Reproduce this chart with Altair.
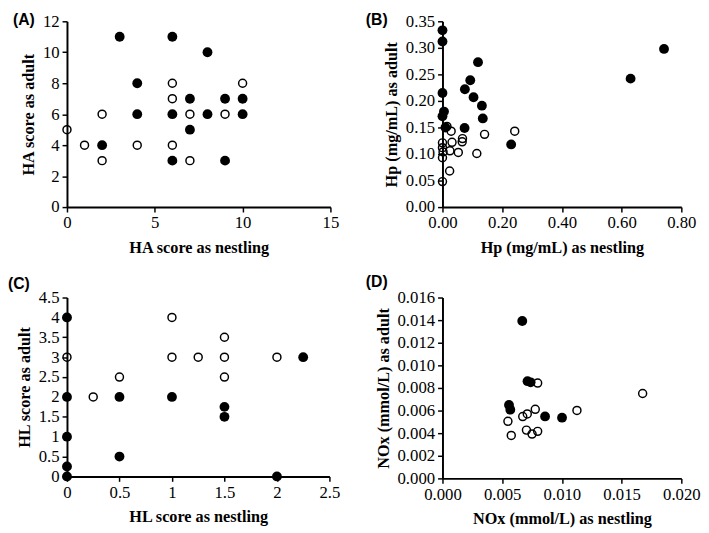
import altair as alt
import pandas as pd

# ---------------- data ----------------
# Panel A: HA score
a_filled_x = [3, 6, 8, 4, 4, 6, 7, 8, 9, 10, 10, 7, 2, 6, 9]
a_filled_y = [11, 11, 10, 8, 6, 6, 7, 6, 7, 7, 6, 5, 4, 3, 3]
a_open_x = [0, 1, 2, 2, 4, 6, 6, 7, 9, 10, 6, 7]
a_open_y = [5, 4, 6, 3, 4, 8, 7, 6, 6, 8, 4, 3]

# Panel B: Hp (mg/mL)
b_filled_x = [0, 0, 0, 0.005, 0, 0.01, 0.075, 0.093, 0.119, 0.104, 0.132, 0.135, 0.074, 0.230, 0.630, 0.742]
b_filled_y = [0.333, 0.312, 0.215, 0.180, 0.171, 0.150, 0.222, 0.239, 0.273, 0.207, 0.191, 0.167, 0.149, 0.118, 0.242, 0.298]
b_open_x = [0.015, 0.029, 0, 0, 0.032, 0.067, 0.066, 0.025, 0.053, 0, 0.115, 0.024, 0, 0.141, 0.242, 0.002]
b_open_y = [0.152, 0.143, 0.121, 0.112, 0.122, 0.129, 0.123, 0.106, 0.103, 0.093, 0.101, 0.068, 0.048, 0.137, 0.143, 0.104]

# Panel C: HL score
c_filled_x = [0, 0, 0, 0, 0, 0.5, 0.5, 1, 1.5, 1.5, 2, 2.25]
c_filled_y = [4, 2, 1, 0.25, 0, 2, 0.5, 2, 1.75, 1.5, 0, 3]
c_open_x = [0, 0.25, 0.5, 1, 1, 1.25, 1.5, 1.5, 1.5, 2]
c_open_y = [3, 2, 2.5, 4, 3, 3, 3.5, 3, 2.5, 3]

# Panel D: NOx (mmol/L)
d_filled_x = [0.00668, 0.00712, 0.00738, 0.00557, 0.00568, 0.00859, 0.01001]
d_filled_y = [0.01392, 0.00860, 0.00850, 0.00650, 0.00608, 0.00548, 0.00537]
d_open_x = [0.00797, 0.00548, 0.00576, 0.00672, 0.00710, 0.00777, 0.00703, 0.00750, 0.00797, 0.01126, 0.01676]
d_open_y = [0.00843, 0.00505, 0.00380, 0.00547, 0.00570, 0.00611, 0.00427, 0.00392, 0.00416, 0.00601, 0.00751]

# axis ticks
a_xticks = [0, 5, 10, 15]
a_yticks = [0, 2, 4, 6, 8, 10, 12]
b_xticks = [0, 0.2, 0.4, 0.6, 0.8]
b_yticks = [0, 0.05, 0.1, 0.15, 0.2, 0.25, 0.3, 0.35]
c_xticks = [0, 0.5, 1, 1.5, 2, 2.5]
c_yticks = [0, 0.5, 1, 1.5, 2, 2.5, 3, 3.5, 4, 4.5]
d_xticks = [0, 0.005, 0.01, 0.015, 0.02]
d_yticks = [0, 0.002, 0.004, 0.006, 0.008, 0.01, 0.012, 0.014, 0.016]

SERIF = "Liberation Serif"


def panel(label, fx, fy, ox, oy, xt, yt, xtitle, ytitle, xfmt, yfmt, w, h, dx, dy):
    df_f = pd.DataFrame({"x": fx, "y": fy})
    df_o = pd.DataFrame({"x": ox, "y": oy})
    xs = alt.Scale(domain=[xt[0], xt[-1]], nice=False, zero=True)
    ys = alt.Scale(domain=[yt[0], yt[-1]], nice=False, zero=True)
    xax = alt.Axis(values=xt, title=xtitle, format=xfmt, titlePadding=9)
    yax = alt.Axis(values=yt, title=ytitle, format=yfmt, titlePadding=6)
    base_o = alt.Chart(df_o).mark_point(
        shape="circle", filled=False, stroke="black", strokeWidth=1.5,
        size=66, opacity=1, clip=False
    ).encode(x=alt.X("x:Q", scale=xs, axis=xax), y=alt.Y("y:Q", scale=ys, axis=yax))
    base_f = alt.Chart(df_f).mark_point(
        shape="circle", filled=True, color="black", size=100, opacity=1, clip=False
    ).encode(x=alt.X("x:Q", scale=xs, axis=xax), y=alt.Y("y:Q", scale=ys, axis=yax))
    return alt.layer(base_o, base_f).properties(
        width=w, height=h,
        title=alt.TitleParams(label, anchor="start", frame="group", dx=dx, dy=dy,
                              font="Liberation Sans", fontWeight="bold", fontSize=16,
                              color="black", offset=0),
    )


A = panel("(A)", a_filled_x, a_filled_y, a_open_x, a_open_y, a_xticks, a_yticks,
          "HA score as nestling", "HA score as adult", "d", "d", 268, 189, -55, 16)
B = panel("(B)", b_filled_x, b_filled_y, b_open_x, b_open_y, b_xticks, b_yticks,
          "Hp (mg/mL) as nestling", "Hp (mg/mL) as adult", ".2f", ".2f", 243, 189, -78, 16)
C = panel("(C)", c_filled_x, c_filled_y, c_open_x, c_open_y, c_xticks, c_yticks,
          "HL score as nestling", "HL score as adult", "", "", 267, 182, -60, 3)
D = panel("(D)", d_filled_x, d_filled_y, d_open_x, d_open_y, d_xticks, d_yticks,
          "NOx (mmol/L) as nestling", "NOx (mmol/L) as adult", ".3f", ".3f", 243, 184, -78, 1)

chart = alt.concat(A, B, C, D, columns=2, spacing=alt.RowColnumber(row=18, column=26)).properties(
    padding=0, background="white"
).configure_view(stroke=None).configure_axis(
    grid=False,
    domainColor="black", domainWidth=2,
    tickColor="black", tickWidth=1.5, tickSize=5,
    labelFont=SERIF, labelFontSize=17, labelColor="black", labelPadding=3,
    titleFont=SERIF, titleFontSize=16.5, titleFontWeight="bold", titleColor="black",
    labelFlush=False, labelOverlap=False,
)

chart.save("out.html", embed_options={"renderer": "svg", "actions": False})
